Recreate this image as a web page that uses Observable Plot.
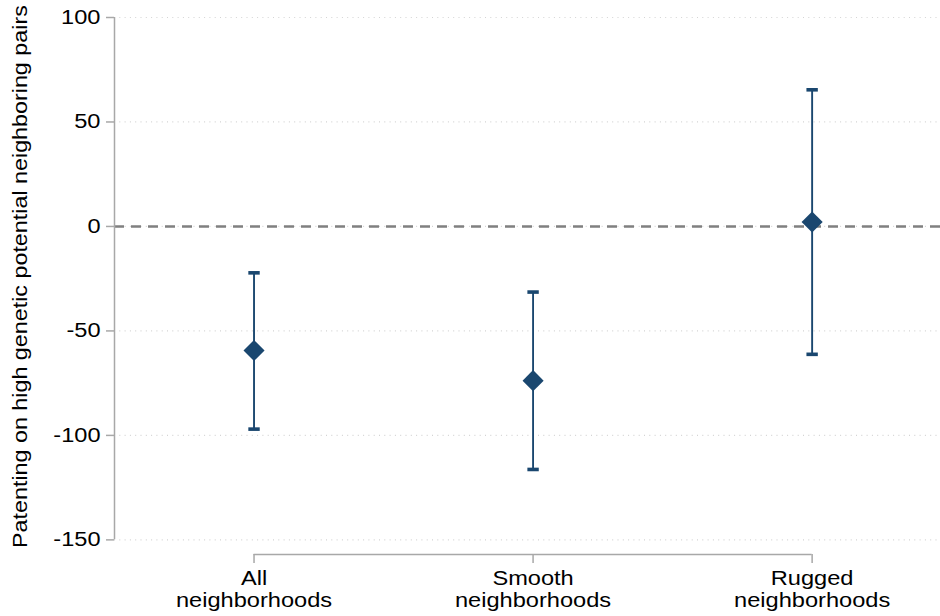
<!DOCTYPE html>
<html>
<head>
<meta charset="utf-8">
<script src="https://cdn.jsdelivr.net/npm/d3@7"></script>
<script src="https://cdn.jsdelivr.net/npm/@observablehq/plot@0.6"></script>
<style>
  html, body { margin: 0; padding: 0; background: #fff; }
  #chart { width: 940px; height: 616px; }
</style>
</head>
<body>
<div id="chart"></div>
<script>
const categories = ["All\nneighborhoods", "Smooth\nneighborhoods", "Rugged\nneighborhoods"];
const estimates = [-59.4, -73.8, 2.1];
const ciLow = [-97.0, -116.3, -61.2];
const ciHigh = [-22.2, -31.4, 65.4];
const yTicks = [-150, -100, -50, 0, 50, 100];
const yTitle = "Patenting on high genetic potential neighboring pairs";

const data = categories.map((c, i) => ({
  pos: i + 1, label: c, est: estimates[i], lo: ciLow[i], hi: ciHigh[i]
}));
const positions = data.map(d => d.pos);

const navy = "#1a476f";
const axisGray = "#a8a8a8";

const chart = Plot.plot({
  width: 940,
  height: 616,
  marginLeft: 114,
  marginRight: 0,
  marginTop: 17,
  marginBottom: 62,
  style: { fontFamily: "'Liberation Sans', Arial, Helvetica, sans-serif", fontSize: "20px", color: "#000", background: "#fff" },
  x: { type: "linear", domain: [0.5, 3.46] },
  y: { domain: [-157, 100] },
  marks: [
    Plot.ruleY(yTicks, { stroke: "#d4d4d4", strokeWidth: 1.2, strokeDasharray: "1,4.3" }),
    Plot.ruleY([0], { stroke: "#808080", strokeWidth: 2.6, strokeDasharray: "10,7" }),
    Plot.ruleX([0.5], { y1: yTicks[0], y2: yTicks[yTicks.length - 1], stroke: axisGray, strokeWidth: 1.5 }),
    Plot.ruleY([-157], { x1: positions[0], x2: positions[positions.length - 1], stroke: axisGray, strokeWidth: 1.5 }),
    Plot.axisY({
      ticks: yTicks, tickSize: 8, tickPadding: 6, stroke: axisGray, strokeWidth: 1.5,
      fill: "#000", fontSize: 20, label: null, tickFormat: d => String(d)
    }),
    Plot.axisX({
      ticks: positions, tickSize: 9, tickPadding: 5, stroke: axisGray, strokeWidth: 1.5,
      fill: "#000", fontSize: 20, label: null, lineHeight: 1.14,
      tickFormat: p => categories[p - 1]
    }),
    Plot.text([yTitle], {
      x: 0.5, y: (yTicks[0] + yTicks[yTicks.length - 1]) / 2 + 1, text: d => d,
      rotate: -90, dx: -94, fontSize: 20, fill: "#000", textAnchor: "middle",
      className: "ytitle"
    }),
    Plot.link(data, {
      x1: "pos", x2: "pos", y1: "lo", y2: "hi",
      stroke: navy, strokeWidth: 1.9, markerStart: "tick", markerEnd: "tick"
    }),
    Plot.dot(data, { x: "pos", y: "est", symbol: "diamond2", r: 9.5, fill: navy, stroke: "none" })
  ]
});
document.getElementById("chart").append(chart);

// widen glyphs horizontally to match the reference's broader type
chart.querySelectorAll("text").forEach(t => {
  const isTitle = !!t.closest(".ytitle");
  const stretch = isTitle ? 1.165 : 1.18;
  const spans = t.querySelectorAll("tspan");
  const items = spans.length ? Array.from(spans) : [t];
  items.forEach(el => {
    const len = el.getComputedTextLength();
    if (len > 0) {
      el.setAttribute("textLength", (len * stretch).toFixed(1));
      el.setAttribute("lengthAdjust", "spacingAndGlyphs");
    }
  });
});
</script>
</body>
</html>
